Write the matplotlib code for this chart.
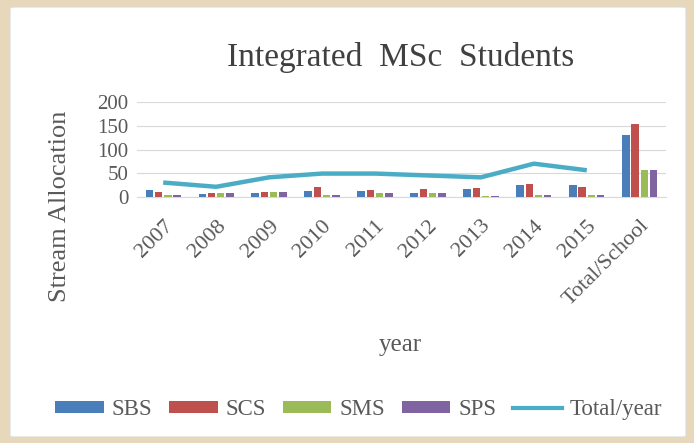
import numpy as np
import matplotlib
matplotlib.use('Agg')
import matplotlib.pyplot as plt
from matplotlib.patches import FancyBboxPatch
from matplotlib.lines import Line2D
from matplotlib.patches import Patch

# Data
categories = ['2007', '2008', '2009', '2010', '2011', '2012', '2013', '2014', '2015', 'Total/School']
sbs = [14, 5, 7, 12, 12, 7, 17, 24, 24, 130]
scs = [11, 7, 10, 20, 15, 17, 19, 27, 21, 155]
sms = [3, 8, 10, 4, 7, 8, 2, 4, 4, 56]
sps = [3, 8, 10, 4, 7, 8, 2, 4, 4, 56]
total_year = [30, 21, 41, 49, 49, 45, 41, 70, 56]

colors = ['#4a7ebb', '#c0504d', '#9bbb59', '#8064a2']
line_color = '#4bacc6'
text_color = '#595959'

plt.rcParams['font.family'] = ['Liberation Serif', 'DejaVu Serif']

fig = plt.figure(figsize=(6.94, 4.43), dpi=100)
fig.patch.set_facecolor('#e8d8bb')

# white chart card behind everything
card = FancyBboxPatch((10 / 694, 6 / 443), 676 / 694, 430 / 443,
                      boxstyle='round,pad=0,rounding_size=0.004',
                      transform=fig.transFigure, facecolor='white',
                      edgecolor='#d9d9d9', linewidth=0.8, zorder=-10)
fig.patches.append(card)

ax = fig.add_axes([0.197, 0.556, 0.763, 0.213])
ax.set_facecolor('none')

x = np.arange(len(categories))
w = 0.175
series = [('SBS', sbs), ('SCS', scs), ('SMS', sms), ('SPS', sps)]
for i, (name, vals) in enumerate(series):
    ax.bar(x + (i - 1.5) * w, vals, width=w * 0.8, color=colors[i], label=name, zorder=3)

ax.plot(x[:len(total_year)], total_year, color=line_color, linewidth=3.2, zorder=4,
        solid_capstyle='butt')

ax.set_xlim(-0.5, len(categories) - 0.5)
ax.set_ylim(0, 200)
ax.set_yticks([0, 50, 100, 150, 200])
ax.yaxis.grid(True, color='#d9d9d9', linewidth=0.8, zorder=0)
for s in ['top', 'right', 'left']:
    ax.spines[s].set_visible(False)
ax.spines['bottom'].set_color('#d9d9d9')
ax.tick_params(axis='both', length=0, colors=text_color, labelsize=15)
ax.tick_params(axis='y', pad=6)
ax.tick_params(axis='x', pad=14, labelsize=16)
ax.set_xticks(x)
ax.set_xticklabels(categories, rotation=45, ha='right', rotation_mode='anchor')

fig.text(0.577, 0.87, 'Integrated  MSc  Students', ha='center', va='center',
         fontsize=24, color='#404040')
fig.text(0.087, 0.535, 'Stream Allocation', rotation=90, ha='center', va='center',
         fontsize=19, color=text_color)
fig.text(0.577, 0.222, 'year', ha='center', va='center', fontsize=18, color=text_color)

handles = [Patch(facecolor=c) for c in colors]
handles.append(Line2D([0], [0], color=line_color, linewidth=3))
fig.legend(handles, ['SBS', 'SCS', 'SMS', 'SPS', 'Total/year'], loc='center',
           bbox_to_anchor=(0.517, 0.075), ncol=5, frameon=False, fontsize=16.5,
           handlelength=2.1, handleheight=0.4, columnspacing=0.75, handletextpad=0.35,
           labelcolor=text_color)

fig.savefig('out.png', dpi=100, facecolor=fig.get_facecolor())
